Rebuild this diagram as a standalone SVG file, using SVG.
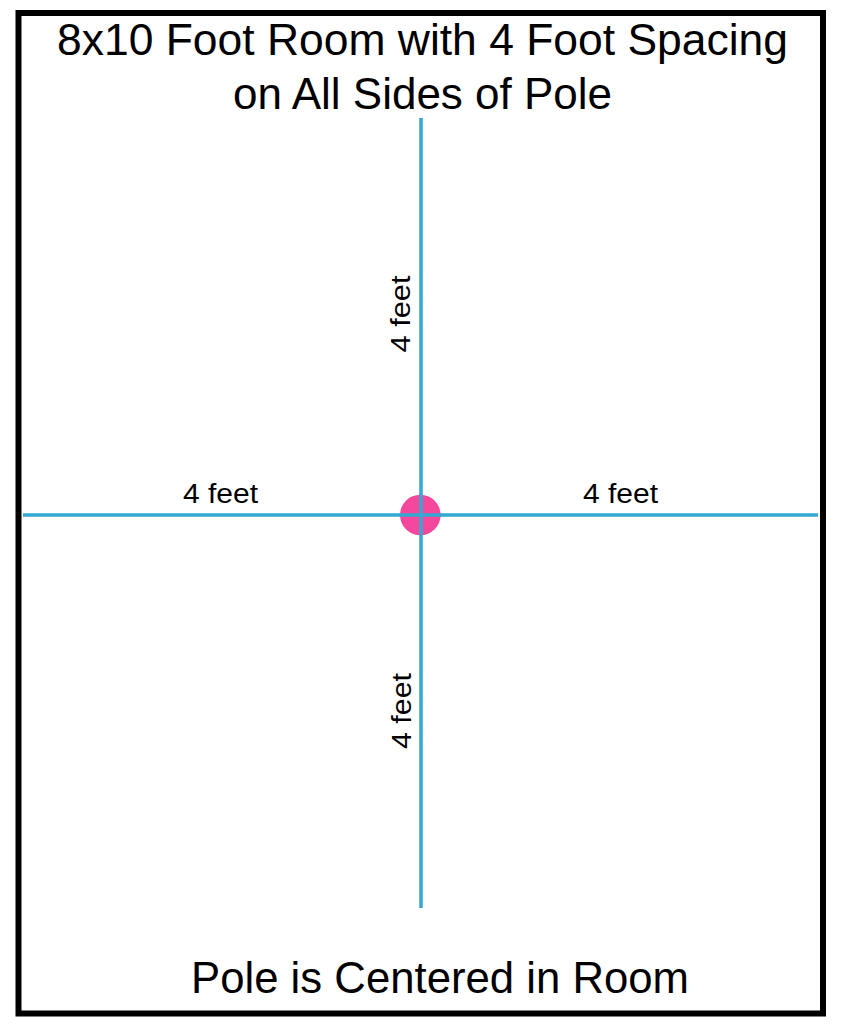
<svg xmlns="http://www.w3.org/2000/svg" width="850" height="1035" viewBox="0 0 850 1035">
  <style>
    .title { font-family: "Liberation Sans", Arial, sans-serif; font-size: 44px; fill: #000; text-anchor: middle; }
    .label { font-family: "Liberation Sans", Arial, sans-serif; font-size: 27px; fill: #000; text-anchor: middle; }
    .dim { stroke: #35a8d0; stroke-width: 3.5; fill: none; }
  </style>
  <rect x="0" y="0" width="850" height="1035" fill="#ffffff"/>
  <g id="room">
    <rect x="18.5" y="13" width="804.5" height="1000.5" fill="#ffffff" stroke="#000000" stroke-width="6"/>
  </g>
  <g id="title">
    <text class="title" x="422.5" y="55" textLength="731" lengthAdjust="spacingAndGlyphs">8x10 Foot Room with 4 Foot Spacing</text>
    <text class="title" x="422.5" y="109">on All Sides of Pole</text>
  </g>
  <g id="connectors">
    <line class="dim" x1="23" y1="515" x2="818" y2="515"/>
    <line class="dim" x1="421" y1="118" x2="421" y2="908"/>
  </g>
  <g id="pole">
    <circle cx="420.3" cy="515" r="20.3" fill="#f5489d"/>
    <line class="dim" x1="400" y1="515" x2="441" y2="515"/>
    <line class="dim" x1="421" y1="494.5" x2="421" y2="535.5"/>
  </g>
  <g id="labels">
    <text class="label" x="220.5" y="503" textLength="75" lengthAdjust="spacingAndGlyphs">4 feet</text>
    <text class="label" x="620.5" y="503" textLength="75" lengthAdjust="spacingAndGlyphs">4 feet</text>
    <text class="label" transform="translate(410 314) rotate(-90)" textLength="77" lengthAdjust="spacingAndGlyphs">4 feet</text>
    <text class="label" transform="translate(410.5 711) rotate(-90)" textLength="76" lengthAdjust="spacingAndGlyphs">4 feet</text>
  </g>
  <g id="caption">
    <text class="title" x="440" y="993" textLength="498" lengthAdjust="spacingAndGlyphs">Pole is Centered in Room</text>
  </g>
</svg>
